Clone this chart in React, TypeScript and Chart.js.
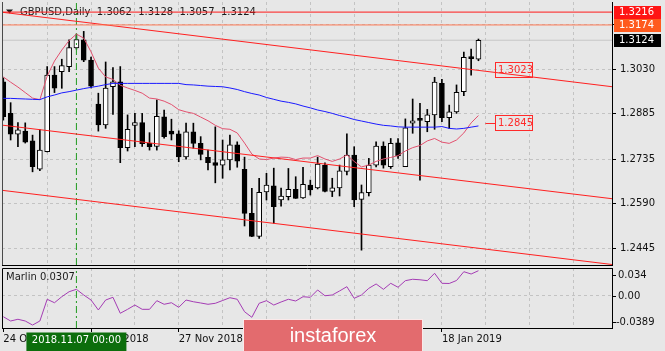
import React, { useEffect, useRef } from 'react';
import { Chart, registerables } from 'chart.js';

Chart.register(...registerables);

const FONT = "'DejaVu Sans', 'Liberation Sans', sans-serif";

const symbolTitle = 'GBPUSD,Daily  1.3062  1.3128  1.3057  1.3124';
const indicatorName = 'Marlin 0.0307';
const crosshairLabel = '2018.11.07 00:00';
const watermark = 'instaforex';

// Daily candles, 24 Oct 2018 .. 25 Jan 2019
const opens = [
  1.2988, 1.2885, 1.2817, 1.2827, 1.2795, 1.2703, 1.2760, 1.3010, 1.3021, 1.3038,
  1.3099, 1.3125, 1.3059, 1.2915, 1.2847, 1.2972, 1.2988, 1.2773, 1.2846, 1.2855,
  1.2787, 1.2777, 1.2874, 1.2827, 1.2818, 1.2743, 1.2825, 1.2787, 1.2741, 1.2724,
  1.2716, 1.2733, 1.2782, 1.2702, 1.2558, 1.2483, 1.2628, 1.2648, 1.2602, 1.2613,
  1.2637, 1.2609, 1.2651, 1.2641, 1.2715, 1.2630, 1.2641, 1.2695, 1.2749, 1.2604,
  1.2626, 1.2716, 1.2778, 1.2711, 1.2789, 1.2711, 1.2853, 1.2865, 1.2858, 1.2880,
  1.2983, 1.2871, 1.2890, 1.2956, 1.3066, 1.3062,
];
const highs = [
  1.3001, 1.2920, 1.2855, 1.2854, 1.2814, 1.2832, 1.3038, 1.3038, 1.3062, 1.3125,
  1.3144, 1.3153, 1.3069, 1.2951, 1.3053, 1.3035, 1.3038, 1.2880, 1.2885, 1.2885,
  1.2822, 1.2929, 1.2896, 1.2866, 1.2828, 1.2853, 1.2853, 1.2809, 1.2765, 1.2841,
  1.2798, 1.2814, 1.2792, 1.2742, 1.2640, 1.2673, 1.2689, 1.2706, 1.2641, 1.2705,
  1.2678, 1.2709, 1.2667, 1.2742, 1.2723, 1.2673, 1.2716, 1.2818, 1.2776, 1.2651,
  1.2738, 1.2792, 1.2792, 1.2803, 1.2803, 1.2867, 1.2932, 1.2918, 1.2898, 1.3003,
  1.2996, 1.2912, 1.2978, 1.3085, 1.3095, 1.3128,
];
const lows = [
  1.2863, 1.2798, 1.2776, 1.2788, 1.2694, 1.2698, 1.2759, 1.2953, 1.2967, 1.3021,
  1.3095, 1.3054, 1.2968, 1.2827, 1.2836, 1.2882, 1.2724, 1.2762, 1.2776, 1.2777,
  1.2765, 1.2765, 1.2804, 1.2798, 1.2727, 1.2735, 1.2771, 1.2733, 1.2700, 1.2658,
  1.2673, 1.2700, 1.2709, 1.2517, 1.2482, 1.2476, 1.2602, 1.2526, 1.2582, 1.2602,
  1.2607, 1.2607, 1.2618, 1.2638, 1.2628, 1.2613, 1.2615, 1.2684, 1.2580, 1.2438,
  1.2615, 1.2710, 1.2706, 1.2705, 1.2738, 1.2711, 1.2820, 1.2667, 1.2825, 1.2833,
  1.2858, 1.2836, 1.2885, 1.2943, 1.3010, 1.3057,
];
const closes = [
  1.2874, 1.2817, 1.2831, 1.2791, 1.2711, 1.2765, 1.3010, 1.2967, 1.3041, 1.3100,
  1.3126, 1.3059, 1.2974, 1.2847, 1.2968, 1.2988, 1.2773, 1.2833, 1.2855, 1.2786,
  1.2776, 1.2875, 1.2809, 1.2817, 1.2743, 1.2825, 1.2787, 1.2751, 1.2724, 1.2715,
  1.2733, 1.2782, 1.2729, 1.2558, 1.2483, 1.2627, 1.2651, 1.2580, 1.2615, 1.2637,
  1.2607, 1.2653, 1.2635, 1.2719, 1.2630, 1.2642, 1.2697, 1.2749, 1.2602, 1.2626,
  1.2716, 1.2778, 1.2716, 1.2787, 1.2746, 1.2838, 1.2861, 1.2862, 1.2880, 1.2987,
  1.2871, 1.2890, 1.2954, 1.3068, 1.3064, 1.3124,
];

// slow moving average (blue)
const maSlow = [
  1.2934, 1.2934, 1.2933, 1.2932, 1.2931, 1.2930, 1.2939, 1.2945, 1.2952, 1.2956,
  1.2961, 1.2966, 1.2970, 1.2974, 1.2979, 1.2983, 1.2983, 1.2983, 1.2983, 1.2983,
  1.2983, 1.2983, 1.2983, 1.2983, 1.2983, 1.2979, 1.2978, 1.2976, 1.2974, 1.2973,
  1.2972, 1.2968, 1.2963, 1.2956, 1.2950, 1.2945, 1.2937, 1.2931, 1.2925, 1.2921,
  1.2916, 1.2909, 1.2903, 1.2896, 1.2891, 1.2885, 1.2878, 1.2872, 1.2865, 1.2860,
  1.2855, 1.2850, 1.2846, 1.2844, 1.2841, 1.2840, 1.2840, 1.2840, 1.2840, 1.2840,
  1.2842, 1.2836, 1.2834, 1.2836, 1.2840, 1.2844,
];
// fast moving average (pink)
const maFast = [
  1.3004, 1.2987, 1.2971, 1.2953, 1.2935, 1.2930, 1.3007, 1.3056, 1.3092, 1.3123,
  1.3144, 1.3131, 1.3086, 1.3033, 1.3004, 1.2996, 1.2977, 1.2968, 1.2960, 1.2951,
  1.2935, 1.2932, 1.2925, 1.2914, 1.2897, 1.2890, 1.2885, 1.2873, 1.2861, 1.2846,
  1.2835, 1.2833, 1.2821, 1.2788, 1.2752, 1.2736, 1.2734, 1.2739, 1.2742, 1.2741,
  1.2734, 1.2739, 1.2739, 1.2747, 1.2736, 1.2728, 1.2736, 1.2749, 1.2728, 1.2710,
  1.2716, 1.2728, 1.2736, 1.2741, 1.2747, 1.2762, 1.2773, 1.2780, 1.2795, 1.2803,
  1.2791, 1.2787, 1.2798, 1.2821, 1.2854, 1.2878,
];
// Marlin oscillator
const marlin = [
  -0.0252, -0.0304, -0.0283, -0.0304, -0.0353, -0.0304, -0.0040, -0.0082, -0.0009, 0.0052,
  0.0081, 0.0012, -0.0049, -0.0170, -0.0049, -0.0016, -0.0210, -0.0162, -0.0110, -0.0162,
  -0.0162, -0.0057, -0.0101, -0.0082, -0.0138, -0.0049, -0.0070, -0.0085, -0.0101, -0.0089,
  -0.0055, -0.0021, -0.0040, -0.0191, -0.0259, -0.0089, -0.0057, -0.0110, -0.0073, -0.0040,
  -0.0061, -0.0009, -0.0016, 0.0073, 0.0003, 0.0012, 0.0061, 0.0113, -0.0028, 0.0012,
  0.0093, 0.0146, 0.0081, 0.0154, 0.0106, 0.0186, 0.0203, 0.0197, 0.0186, 0.0276,
  0.0154, 0.0152, 0.0188, 0.0295, 0.0267, 0.0307,
];

const dateTickBars = [0, 12, 24, 36, 48, 60];
const dateTickLabels = ['24 Oct 2018', '9 Nov 2018', '27 Nov 2018', '13 Dec 2018', '2 Jan 2019', '18 Jan 2019'];
const gridBars = [6, 12, 18, 24, 30, 36, 42, 48, 54, 60, 66, 72, 78];
const priceTicks = [1.2445, 1.259, 1.2735, 1.2885, 1.303, 1.3177];
const priceTickLabels = ['1.2445', '1.2590', '1.2735', '1.2885', '1.3030', ''];
const levelPrices = [1.3216, 1.3174];
const levelLabels = ['1.3216', '1.3174'];
const lastPrice = 1.3124;
const lastPriceLabel = '1.3124';
const channelBars = [-1, 84];
const channelTop = [1.3218, 1.2970];
const channelMid = [1.2849, 1.2604];
const channelBot = [1.2636, 1.2389];
const markerBar = 10;
const valueLabels = ['1.3023', '1.2845'];
const valueLabelPrices = [1.3027, 1.2852];
const valueLabelBar = 67.25;
const marlinTicks = [0.034, 0, -0.0389];
const marlinTickLabels = ['0.034', '0.00', '-0.0389'];

const X_MIN = -0.18;
const X_MAX = 83.27;
const P_MIN = 1.23895;
const P_MAX = 1.3249;
const M_MIN = -0.0389;
const M_MAX = 0.034;

const GRID = '#c3c3c3';
const TEXT = '#111111';
const CLEAR = 'rgba(0,0,0,0)';

const series = (arr: number[]) => arr.map((v, i) => ({ x: i, y: v }));
const hline = (v: number) => [{ x: X_MIN, y: v }, { x: X_MAX, y: v }];
const twoPoint = (vals: number[]) => channelBars.map((b, k) => ({ x: b, y: vals[k] }));

const lineDs = (data: any[], color: string, extra: any = {}) => ({
  type: 'line',
  data,
  borderColor: color,
  borderWidth: 1,
  pointRadius: 0,
  tension: 0,
  fill: false,
  order: 0,
  ...extra,
});

const mainOverlay = {
  id: 'mainOverlay',
  beforeDatasetsDraw(chart: any) {
    const { ctx, chartArea } = chart;
    ctx.save();
    ctx.fillStyle = '#1a1a1a';
    ctx.beginPath();
    ctx.moveTo(chartArea.left + 4, 9.5);
    ctx.lineTo(chartArea.left + 11, 9.5);
    ctx.lineTo(chartArea.left + 7.5, 13.5);
    ctx.closePath();
    ctx.fill();
    ctx.font = `10px ${FONT}`;
    ctx.textBaseline = 'middle';
    ctx.textAlign = 'left';
    ctx.fillText(symbolTitle, chartArea.left + 18, 12);
    ctx.restore();
  },
  afterDraw(chart: any) {
    const { ctx, chartArea, scales } = chart;
    const xs = scales.x;
    const ys = scales.y;
    ctx.save();
    ctx.lineWidth = 1;
    ctx.strokeStyle = '#4a4a4a';
    const lx = Math.round(chartArea.left) + 0.5;
    ctx.beginPath();
    ctx.moveTo(lx, chartArea.top);
    ctx.lineTo(lx, chartArea.bottom);
    ctx.stroke();

    ctx.font = `10px ${FONT}`;
    ctx.textBaseline = 'middle';
    ctx.textAlign = 'left';
    valueLabels.forEach((t, k) => {
      const x = Math.round(xs.getPixelForValue(valueLabelBar));
      const y = Math.round(ys.getPixelForValue(valueLabelPrices[k]));
      ctx.strokeStyle = '#ff2a2a';
      ctx.strokeRect(x + 0.5, y - 7.5, 37, 15);
      ctx.fillStyle = '#ff2a2a';
      ctx.fillText(t, x + 3, y + 0.5);
      if (k === 1) {
        const x0 = xs.getPixelForValue(valueLabelBar - 1.3);
        ctx.beginPath();
        ctx.moveTo(x0, y + 0.5);
        ctx.lineTo(x, y + 0.5);
        ctx.stroke();
      }
    });

    const tags: [number, string, string][] = [
      [levelPrices[0], levelLabels[0], '#ff1414'],
      [levelPrices[1], levelLabels[1], '#ff5a1e'],
      [lastPrice, lastPriceLabel, '#000000'],
    ];
    tags.forEach(([v, t, c]) => {
      const y = Math.round(ys.getPixelForValue(v));
      ctx.fillStyle = c;
      ctx.fillRect(chartArea.right + 2, y - 6, 47, 13);
      ctx.fillStyle = '#ffffff';
      ctx.fillText(t, chartArea.right + 7, y + 0.5);
    });
    ctx.restore();
  },
};

const subOverlay = {
  id: 'subOverlay',
  afterDraw(chart: any) {
    const { ctx, chartArea, scales } = chart;
    const xs = scales.x;
    const ys = scales.y;
    ctx.save();
    ctx.strokeStyle = '#000';
    ctx.lineWidth = 1;
    const l = Math.round(chartArea.left) + 0.5;
    const t = Math.round(chartArea.top) + 0.5;
    ctx.beginPath();
    ctx.moveTo(l, chartArea.bottom);
    ctx.lineTo(l, t);
    ctx.lineTo(chartArea.right, t);
    ctx.stroke();

    ctx.font = `10px ${FONT}`;
    ctx.fillStyle = '#1a1a1a';
    ctx.textBaseline = 'middle';
    ctx.textAlign = 'left';
    ctx.fillText(indicatorName, chartArea.left + 4, chartArea.top + 9);

    const offs = [7, 0, -6];
    marlinTicks.forEach((v, k) => {
      const y = Math.round(ys.getPixelForValue(v) + offs[k]);
      ctx.beginPath();
      ctx.moveTo(chartArea.right, y + 0.5);
      ctx.lineTo(chartArea.right + 4, y + 0.5);
      ctx.stroke();
      ctx.fillStyle = TEXT;
      ctx.fillText(marlinTickLabels[k], chartArea.right + (v < 0 ? 4 : 6), y + 0.5);
    });

    // crosshair date box
    const cx = xs.getPixelForValue(markerBar);
    ctx.fillStyle = '#0c6e0c';
    ctx.fillRect(cx - 50, chartArea.bottom + 4.5, 100, 20);
    ctx.fillStyle = '#ffffff';
    ctx.textAlign = 'center';
    ctx.fillText(crosshairLabel, cx, chartArea.bottom + 12.5);

    // watermark banner
    ctx.fillStyle = '#e36b6e';
    ctx.fillRect(243, 319, 180, 33);
    ctx.strokeStyle = 'rgba(255,255,255,0.85)';
    ctx.strokeRect(243.5, 319.5, 179, 40);
    ctx.fillStyle = '#ffffff';
    ctx.font = "20px 'Liberation Sans', Arial, sans-serif";
    ctx.textAlign = 'center';
    ctx.textBaseline = 'alphabetic';
    ctx.fillText(watermark, 333, 342);
    ctx.restore();
  },
};

export default function App() {
  const mainRef = useRef<HTMLCanvasElement | null>(null);
  const subRef = useRef<HTMLCanvasElement | null>(null);

  useEffect(() => {
    if (!mainRef.current || !subRef.current) return;

    const bodyData = opens.map((o, i) => ({ x: i, y: [o, closes[i]] }));
    const wickData = lows.map((lo, i) => ({ x: i, y: [lo, highs[i]] }));
    const bodyColors = opens.map((o, i) => (closes[i] >= o ? '#ffffff' : '#000000'));

    const main = new Chart(mainRef.current, {
      type: 'bar',
      data: {
        datasets: [
          lineDs(hline(levelPrices[0]), '#ff1a1a'),
          lineDs(hline(levelPrices[1]), '#ff7a55'),
          lineDs(hline(lastPrice), '#c6c6c6', { order: 3 }),
          lineDs(twoPoint(channelTop), '#ff2020'),
          lineDs(twoPoint(channelMid), '#ff2020'),
          lineDs(twoPoint(channelBot), '#ff2020'),
          lineDs(series(maSlow), '#1a1aff'),
          lineDs(series(maFast), '#e2506e'),
          lineDs([{ x: markerBar, y: P_MIN }, { x: markerBar, y: P_MAX }], '#1f9a1f', {
            borderDash: [7, 3, 2, 3],
          }),
          {
            type: 'bar',
            data: bodyData,
            backgroundColor: bodyColors,
            borderColor: '#000000',
            borderWidth: 1,
            borderSkipped: false,
            barThickness: 5,
            minBarLength: 2,
            grouped: false,
            order: 1,
          },
          {
            type: 'bar',
            data: wickData,
            backgroundColor: '#000000',
            borderWidth: 0,
            barThickness: 1,
            grouped: false,
            order: 2,
          },
        ] as any,
      },
      options: {
        responsive: false,
        maintainAspectRatio: false,
        animation: false,
        devicePixelRatio: 1,
        events: [],
        layout: { padding: { left: 2, top: 2, right: 0, bottom: 86 } },
        plugins: { legend: { display: false }, tooltip: { enabled: false } },
        scales: {
          x: {
            type: 'linear',
            position: 'bottom',
            min: X_MIN,
            max: X_MAX,
            offset: false,
            grid: { color: GRID, drawTicks: false, offset: false },
            border: { display: true, color: '#000', dash: [3, 3] },
            ticks: { display: false },
            afterBuildTicks: (s: any) => {
              s.ticks = gridBars.map((v) => ({ value: v }));
            },
            afterFit: (s: any) => {
              s.height = 0;
              s.paddingLeft = 0;
              s.paddingRight = 0;
            },
          },
          y: {
            type: 'linear',
            position: 'right',
            min: P_MIN,
            max: P_MAX,
            beginAtZero: false,
            grid: { color: GRID, tickColor: '#000', tickLength: 4 },
            border: { display: true, color: '#000', dash: [3, 3] },
            ticks: {
              autoSkip: false,
              padding: 4,
              color: TEXT,
              font: { family: FONT, size: 10 },
              callback: (v: any) => {
                const k = priceTicks.indexOf(Number(v));
                return k >= 0 ? priceTickLabels[k] : '';
              },
            },
            afterBuildTicks: (s: any) => {
              s.ticks = priceTicks.map((v) => ({ value: v }));
            },
            afterFit: (s: any) => {
              s.width = 53;
              s.paddingTop = 0;
              s.paddingBottom = 0;
            },
          },
        },
      } as any,
      plugins: [mainOverlay],
    });

    const sub = new Chart(subRef.current, {
      type: 'line',
      data: {
        datasets: [
          lineDs(series(marlin), '#a43cb4'),
          lineDs([{ x: markerBar, y: M_MIN }, { x: markerBar, y: M_MAX }], '#1f9a1f', {
            borderDash: [7, 3, 2, 3],
          }),
        ] as any,
      },
      options: {
        responsive: false,
        maintainAspectRatio: false,
        animation: false,
        devicePixelRatio: 1,
        events: [],
        layout: { padding: { left: 2, top: 268, right: 0, bottom: 0 } },
        plugins: { legend: { display: false }, tooltip: { enabled: false } },
        scales: {
          x: {
            type: 'linear',
            position: 'bottom',
            min: X_MIN,
            max: X_MAX,
            offset: false,
            grid: {
              offset: false,
              tickLength: 4,
              color: (c: any) => (c.tick && c.tick.value === 0 ? CLEAR : GRID),
              tickColor: (c: any) =>
                c.tick && dateTickBars.indexOf(c.tick.value) >= 0 ? '#000' : CLEAR,
            },
            border: { display: true, color: '#000', dash: [3, 3] },
            ticks: {
              autoSkip: false,
              maxRotation: 0,
              minRotation: 0,
              align: 'start',
              padding: 1,
              color: TEXT,
              font: { family: FONT, size: 10 },
              callback: (v: any) => {
                const k = dateTickBars.indexOf(Number(v));
                return k >= 0 ? dateTickLabels[k] : '';
              },
            },
            afterBuildTicks: (s: any) => {
              s.ticks = [0, ...gridBars].map((v) => ({ value: v }));
            },
            afterFit: (s: any) => {
              s.height = 23;
              s.paddingLeft = 0;
              s.paddingRight = 0;
            },
          },
          y: {
            type: 'linear',
            position: 'right',
            min: M_MIN,
            max: M_MAX,
            grid: { color: GRID, drawTicks: false },
            border: { display: true, color: '#000', dash: [3, 3] },
            ticks: { display: false },
            afterBuildTicks: (s: any) => {
              s.ticks = [{ value: 0 }];
            },
            afterFit: (s: any) => {
              s.width = 53;
              s.paddingTop = 0;
              s.paddingBottom = 0;
            },
          },
        },
      } as any,
      plugins: [subOverlay],
    });

    return () => {
      main.destroy();
      sub.destroy();
    };
  }, []);

  return (
    <div
      style={{
        position: 'fixed',
        left: 0,
        top: 0,
        width: 665,
        height: 351,
        background: '#e7e7e7',
        overflow: 'hidden',
      }}
    >
      <canvas ref={mainRef} width={665} height={351} style={{ position: 'absolute', left: 0, top: 0 }} />
      <canvas ref={subRef} width={665} height={351} style={{ position: 'absolute', left: 0, top: 0 }} />
    </div>
  );
}
